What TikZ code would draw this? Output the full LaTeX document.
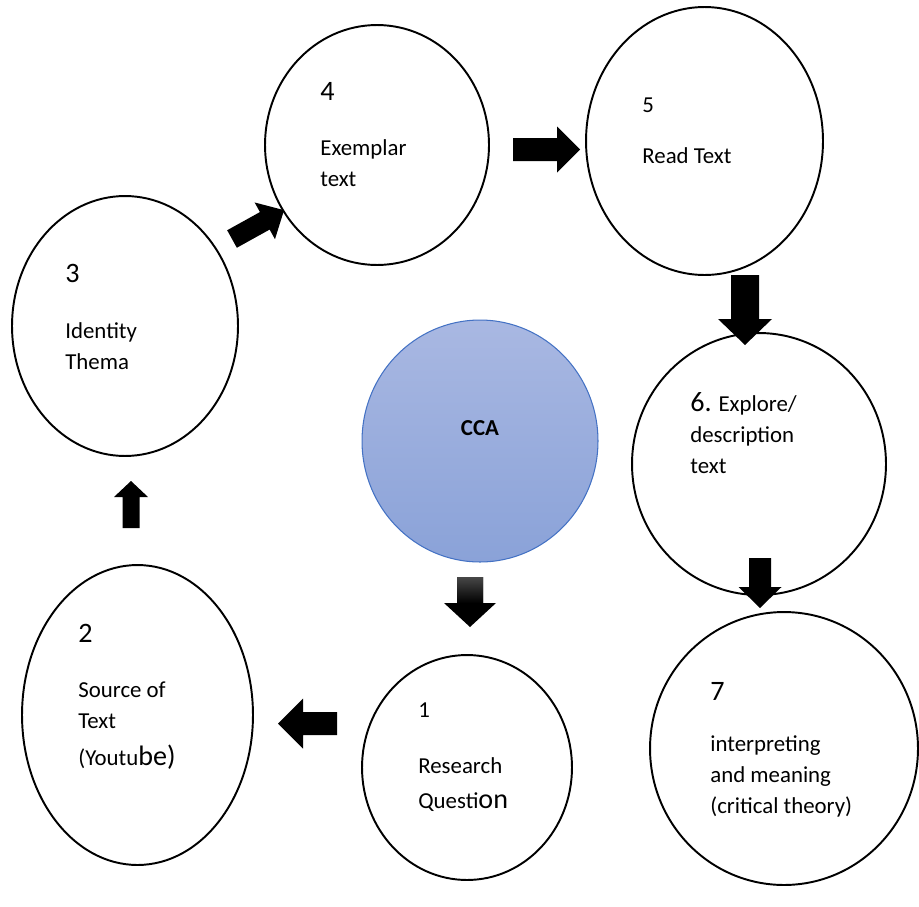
\documentclass[tikz,border=0pt]{standalone}
\usepackage{fontspec}
\setmainfont{Carlito}
\usetikzlibrary{shapes.geometric}
\definecolor{ccatop}{HTML}{A9B8E2}
\definecolor{ccabot}{HTML}{8AA2D8}
\definecolor{ccaline}{HTML}{4472C4}
\tikzset{stage/.style={draw, ellipse, line width=1.1pt, inner sep=0pt}}
\tikzset{num/.style={anchor=base west, inner sep=0pt, font=\fontsize{16}{19}\selectfont}}
\tikzset{txt/.style={anchor=base west, inner sep=0pt, align=left, font=\fontsize{13}{17.6}\selectfont}}
% tail x, tail y, angle, length, shaft half width, head half width, head length
\newcommand{\blockarrow}[7]{%
  \fill[shift={(#1,#2)}, rotate=#3]
    (0,-#5) -- (#4-#7,-#5) -- (#4-#7,-#6) -- (#4,0) -- (#4-#7,#6) -- (#4-#7,#5) -- (0,#5) -- cycle;}

\begin{document}
\begin{tikzpicture}[x=0.02cm, y=-0.02cm]
  \useasboundingbox (0,0) rectangle (919,906);

  % stages
  \node[stage, minimum width=4.52cm, minimum height=5.2cm] (thema) at (125,326) {};
  \node[stage, minimum width=4.48cm, minimum height=4.8cm] (exemplar) at (377,145) {};
  \node[stage, minimum width=4.74cm, minimum height=5.36cm] (read) at (704.5,141) {};
  \node[stage, minimum width=5.08cm, minimum height=5.24cm] (explore) at (759,464) {};
  \node[stage, minimum width=5.36cm, minimum height=5.46cm] (interp) at (784,748.5) {};
  \node[stage, minimum width=4.2cm, minimum height=4.5cm] (question) at (467,767.5) {};
  \node[stage, minimum width=4.62cm, minimum height=6cm] (source) at (137.5,715) {};
  \node[stage, draw=ccaline, line width=0.6pt, top color=ccatop, bottom color=ccabot,
        minimum width=4.72cm, minimum height=4.84cm] (cca) at (480,441) {};
  \node[font=\bfseries\fontsize{13}{15}\selectfont] (ccalbl) at (480,428) {CCA};

  % labels (multi-line ones sit on their last baseline)
  \node[num] (n3) at (65,282) {3};
  \node[txt] (t3) at (65,369) {Identity\\Thema};
  \node[num] (n4) at (320,100) {4};
  \node[txt] (t4) at (320,186) {Exemplar\\text};
  \node[txt] (n5) at (642,112) {5};
  \node[txt] (t5) at (642,163) {Read Text};
  \node[txt] (t6) at (690,473) {{\fontsize{16}{19}\selectfont 6.} Explore/\\description\\text};
  \node[num] (n7) at (710,700) {7};
  \node[txt] (t7) at (710,813) {interpreting\\and meaning\\(critical theory)};
  \node[txt] (n1) at (418,717) {1};
  \node[txt] (t1) at (418,808) {Research\\[2pt]Questi{\fontsize{16}{19}\selectfont on}};
  \node[num] (n2) at (78,642) {2};
  \node[txt] (t2) at (78,765) {Source of\\Text\\[3pt](Youtu{\fontsize{16}{19}\selectfont be)}};

  % arrows
  \blockarrow{232}{239}{29}{59.5}{10}{21}{22}
  \blockarrow{513}{149.5}{0}{67}{11.5}{23}{23}
  \blockarrow{745}{275}{-90}{70}{14}{27}{26}
  \blockarrow{760}{558}{-90}{50}{11}{21.5}{21}
  \blockarrow{470}{577}{-90}{50}{13}{26}{24}
  \shade[top color=black!72, bottom color=black] (457,577) rectangle (483,603);
  \blockarrow{337}{723.5}{180}{59}{11.5}{25}{25}
  \blockarrow{131}{528}{90}{47}{8.5}{17}{16}
\end{tikzpicture}
\end{document}
